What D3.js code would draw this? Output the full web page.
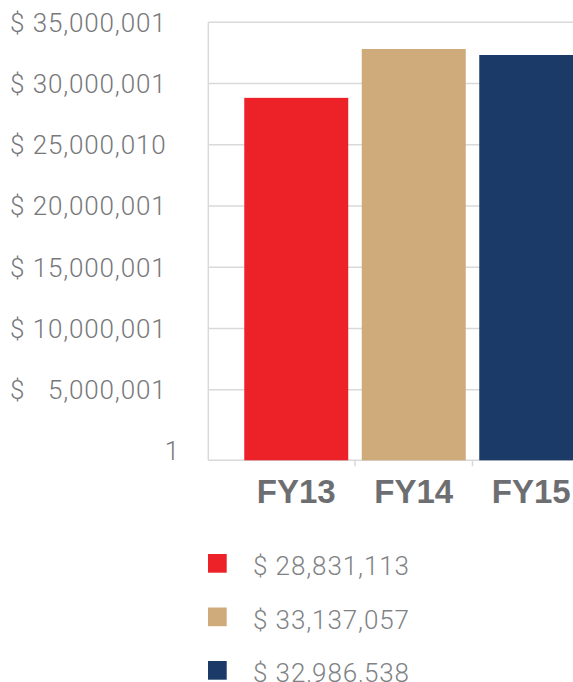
<!doctype html>
<html lang="en">

<head>
    <meta charset="utf-8">
    <title>FY budget</title>
    <style>
        body {
            margin: 0;
            background: #fff;
        }

        .grid line {
            stroke: #d9d9d9;
            stroke-width: 1.5;
        }

        .ylab {
            font-family: Roboto, "Liberation Sans", sans-serif;
            font-weight: 300;
            font-size: 26px;
            letter-spacing: 0.85px;
            fill: #77787b;
        }

        .xlab {
            font-family: "Liberation Sans", Arial, sans-serif;
            font-weight: bold;
            font-size: 33px;
            fill: #6d6e71;
        }

        .leg {
            font-family: Roboto, "Liberation Sans", sans-serif;
            font-weight: 300;
            font-size: 26px;
            letter-spacing: 0.9px;
            fill: #808285;
        }
    </style>
</head>

<body>
    <div id="chart"></div>
    <script src="https://cdn.jsdelivr.net/npm/d3@7"></script>

    <script>
        // data
        var categories = ["FY13", "FY14", "FY15"];
        var barValues = [28831113, 32820000, 32330000];
        var legendLabels = ["$ 28,831,113", "$ 33,137,057", "$ 32,986,538"];
        var colors = ["#ec2228", "#cfaa7b", "#1b3a68"];
        var tickValues = [1, 5000001, 10000001, 15000001, 20000001, 25000001, 30000001, 35000001];
        var tickLabels = ["1", "5,000,001", "10,000,001", "15,000,001", "20,000,001", "25,000,010", "30,000,001", "35,000,001"];

        (function () {
            var width = 573;
            var height = 682;
            var plotLeft = 208.3;
            var plotTop = 22.3;
            var plotBottom = 460.3;
            var yMin = -767000;

            var svg = d3.select("#chart")
                .append("svg")
                .attr("width", width)
                .attr("height", height);

            var y = d3.scaleLinear()
                .domain([yMin, 35000001])
                .range([plotBottom, plotTop]);

            var x = d3.scaleBand()
                .domain(categories)
                .range([237.5, 590])
                .paddingInner(0.115)
                .paddingOuter(0.0575);

            // gridlines
            var grid = svg.append("g").attr("class", "grid");
            grid.selectAll(".gl")
                .data(tickValues.slice(1))
                .enter()
                .append("line")
                .attr("x1", plotLeft)
                .attr("x2", width)
                .attr("y1", function (d) { return y(d); })
                .attr("y2", function (d) { return y(d); });

            // bars
            svg.append("g").selectAll("rect")
                .data(barValues)
                .enter()
                .append("rect")
                .attr("x", function (d, i) { return x(categories[i]); })
                .attr("width", x.bandwidth())
                .attr("y", function (d) { return y(d); })
                .attr("height", function (d) { return plotBottom - y(d); })
                .attr("fill", function (d, i) { return colors[i]; });

            // axis lines
            grid.append("line")
                .attr("x1", plotLeft).attr("x2", plotLeft)
                .attr("y1", plotTop).attr("y2", plotBottom);
            grid.append("line")
                .attr("x1", plotLeft).attr("x2", width)
                .attr("y1", plotBottom).attr("y2", plotBottom);

            // category boundary ticks
            grid.selectAll(".tk")
                .data(categories.slice(1))
                .enter()
                .append("line")
                .attr("x1", function (d) { return x(d) - x.step() * x.paddingInner() / 2; })
                .attr("x2", function (d) { return x(d) - x.step() * x.paddingInner() / 2; })
                .attr("y1", plotBottom)
                .attr("y2", plotBottom + 6);

            // y labels (accounting style: $ left, number right)
            var yl = svg.append("g");
            yl.selectAll(".num")
                .data(tickValues)
                .enter()
                .append("text")
                .attr("class", "ylab")
                .attr("text-anchor", "end")
                .attr("x", function (d, i) { return i === 0 ? 180 : 166.5; })
                .attr("y", function (d) { return y(d); })
                .attr("dy", "0.36em")
                .text(function (d, i) { return tickLabels[i]; });
            yl.selectAll(".dol")
                .data(tickValues.slice(1))
                .enter()
                .append("text")
                .attr("class", "ylab")
                .attr("x", 10)
                .attr("y", function (d) { return y(d); })
                .attr("dy", "0.36em")
                .text("$");

            // x labels
            svg.append("g").selectAll("text")
                .data(categories)
                .enter()
                .append("text")
                .attr("class", "xlab")
                .attr("text-anchor", "middle")
                .attr("x", function (d) { return x(d) + x.bandwidth() / 2; })
                .attr("y", 503)
                .text(function (d) { return d; });

            // legend
            var leg = svg.append("g").attr("transform", "translate(208,554)");
            var item = leg.selectAll("g")
                .data(legendLabels)
                .enter()
                .append("g")
                .attr("transform", function (d, i) { return "translate(0," + i * 53.5 + ")"; });
            item.append("rect")
                .attr("width", 18.7)
                .attr("height", 18.7)
                .attr("fill", function (d, i) { return colors[i]; });
            item.append("text")
                .attr("class", "leg")
                .attr("x", 45)
                .attr("y", 21)
                .text(function (d) { return d; });
        })();
    </script>
</body>
